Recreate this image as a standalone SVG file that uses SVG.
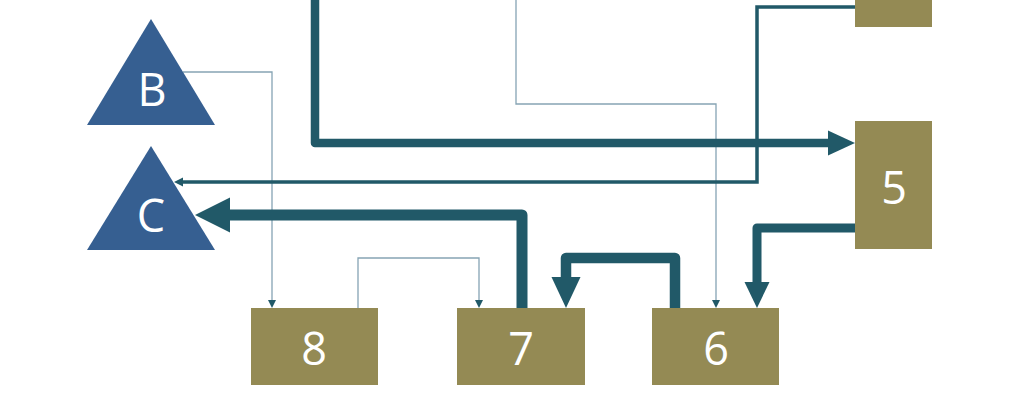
<svg xmlns="http://www.w3.org/2000/svg" width="1024" height="410" viewBox="0 0 1024 410">
<style>
.tri{fill:#365F91}
.box{fill:#948A54}
.lbl{fill:#FFFFFF;font-family:"Open Sans","Noto Sans","DejaVu Sans",sans-serif;font-size:45px;text-anchor:middle}
.thick{fill:none;stroke:#215968;stroke-linejoin:round;stroke-linecap:butt}
.med{fill:none;stroke:#215968;stroke-width:3.5;stroke-linejoin:miter}
.thin{fill:none;stroke:#86A4B4;stroke-width:1.3}
.head{fill:#215968}
</style>
<defs>
<marker id="h5" markerUnits="userSpaceOnUse" orient="auto" refX="0" refY="0" markerWidth="1" markerHeight="1" overflow="visible"><path class="head" d="M-1,-12.5 L26,0 L-1,12.5z"/></marker>
<marker id="h6" markerUnits="userSpaceOnUse" orient="auto" refX="0" refY="0" markerWidth="1" markerHeight="1" overflow="visible"><path class="head" d="M-1,-12.5 L25,0 L-1,12.5z"/></marker>
<marker id="h7" markerUnits="userSpaceOnUse" orient="auto" refX="0" refY="0" markerWidth="1" markerHeight="1" overflow="visible"><path class="head" d="M-1,-14.5 L30,0 L-1,14.5z"/></marker>
<marker id="hC" markerUnits="userSpaceOnUse" orient="auto" refX="0" refY="0" markerWidth="1" markerHeight="1" overflow="visible"><path class="head" d="M-1,-17.5 L34,0 L-1,17.5z"/></marker>
<marker id="hm" markerUnits="userSpaceOnUse" orient="auto" refX="0" refY="0" markerWidth="1" markerHeight="1" overflow="visible"><path class="head" d="M-1,-4.5 L8,0 L-1,4.5z"/></marker>
<marker id="ht" markerUnits="userSpaceOnUse" orient="auto" refX="0" refY="0" markerWidth="1" markerHeight="1" overflow="visible"><path class="head" d="M-1,-4 L7,0 L-1,4z"/></marker>
</defs>
<g id="connectors">
<path class="thin" d="M183,72 H272 V301" marker-end="url(#ht)"/>
<path class="thin" d="M516,0 V104 H716 V301" marker-end="url(#ht)"/>
<path class="thin" d="M358,308 V258 H479 V301" marker-end="url(#ht)"/>
<path class="med" d="M855,7 H757 V182 H182" marker-end="url(#hm)"/>
<path class="thick" style="stroke-width:8.5" d="M315,0 V143 H829" marker-end="url(#h5)"/>
<path class="thick" style="stroke-width:11" d="M522,308 V215 H229" marker-end="url(#hC)"/>
<path class="thick" style="stroke-width:10.5" d="M675,308 V258 H566 V278" marker-end="url(#h7)"/>
<path class="thick" style="stroke-width:9" d="M855,228 H757 V283" marker-end="url(#h6)"/>
</g>
<g id="node-B"><polygon class="tri" points="151,19 87,125 215,125"/><text class="lbl" x="152" y="106">B</text></g>
<g id="node-C"><polygon class="tri" points="151,146 87,250 215,250"/><text class="lbl" x="151" y="232">C</text></g>
<g id="node-top"><rect class="box" x="855" y="0" width="77" height="27"/></g>
<g id="node-5"><rect class="box" x="855" y="121" width="77" height="128"/><text class="lbl" x="894" y="204">5</text></g>
<g id="node-8"><rect class="box" x="251" y="308" width="127" height="77"/><text class="lbl" x="314" y="365">8</text></g>
<g id="node-7"><rect class="box" x="457" y="308" width="128" height="77"/><text class="lbl" x="521" y="365">7</text></g>
<g id="node-6"><rect class="box" x="652" y="308" width="127" height="77"/><text class="lbl" x="716" y="365">6</text></g>
</svg>
